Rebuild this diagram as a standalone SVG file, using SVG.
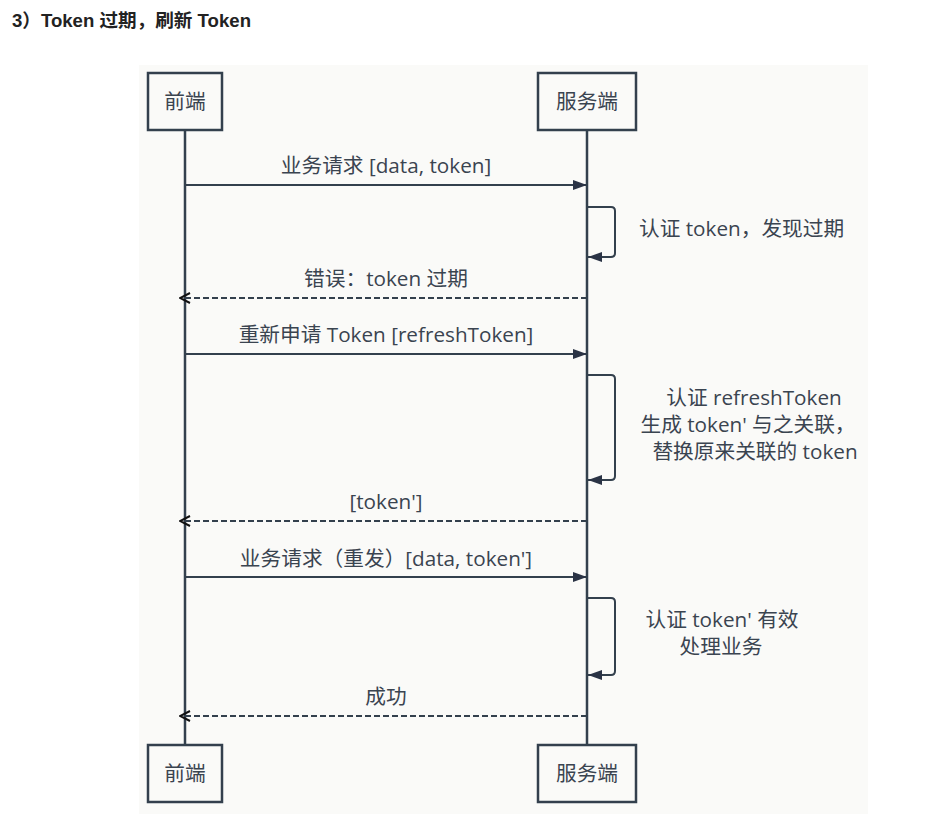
<svg xmlns="http://www.w3.org/2000/svg" width="932" height="826" viewBox="0 0 932 826">
<defs>
<style>
.t{font-family:"Open Sans","Noto Sans CJK SC",sans-serif;font-size:20.7px;fill:#3a4450}
.title{font-family:"Liberation Sans","Noto Sans CJK SC",sans-serif;font-size:18.6px;font-weight:bold;fill:#222}
.box{fill:#fafaf8;stroke:#33404d;stroke-width:2.5}
.life{stroke:#33404d;stroke-width:2.5;fill:none}
.msg{stroke:#33404d;stroke-width:2;fill:none}
.dash{stroke:#33404d;stroke-width:2;fill:none;stroke-dasharray:6 3}
</style>
<marker id="fa" viewBox="0 0 14 10" refX="14" refY="5" markerWidth="14" markerHeight="10" markerUnits="userSpaceOnUse" orient="auto">
<path d="M0,0 L14,5 L0,10 Z" fill="#2a3345"/>
</marker>
<marker id="oa" viewBox="0 0 12 12" refX="11" refY="6" markerWidth="12" markerHeight="12" markerUnits="userSpaceOnUse" orient="auto">
<path d="M1,1 L11,6 L1,11" fill="none" stroke="#111" stroke-width="2"/>
</marker>
</defs>
<rect width="932" height="826" fill="#ffffff"/>
<text class="title" x="12" y="27">3）Token 过期，刷新 Token</text>
<rect x="139" y="65" width="729" height="749" fill="#fafaf8"/>
<g id="connectors">
<line class="life" x1="185" y1="130" x2="185" y2="745"/>
<line class="life" x1="587" y1="130" x2="587" y2="745"/>
<line class="msg" x1="185" y1="185" x2="587" y2="185" marker-end="url(#fa)"/>
<path class="msg" d="M587,207 H611 Q615,207 615,211 V253 Q615,257 611,257 H588" marker-end="url(#fa)"/>
<line class="dash" x1="587" y1="298" x2="180" y2="298" marker-end="url(#oa)"/>
<line class="msg" x1="185" y1="354" x2="587" y2="354" marker-end="url(#fa)"/>
<path class="msg" d="M587,375 H611 Q615,375 615,379 V476 Q615,480 611,480 H588" marker-end="url(#fa)"/>
<line class="dash" x1="587" y1="521" x2="180" y2="521" marker-end="url(#oa)"/>
<line class="msg" x1="185" y1="577" x2="587" y2="577" marker-end="url(#fa)"/>
<path class="msg" d="M587,598 H611 Q615,598 615,602 V671 Q615,675 611,675 H588" marker-end="url(#fa)"/>
<line class="dash" x1="587" y1="716" x2="180" y2="716" marker-end="url(#oa)"/>
<text class="t" x="386" y="173" text-anchor="middle">业务请求 [data, token]</text>
<text class="t" x="639" y="236">认证 token，发现过期</text>
<text class="t" x="386" y="286" text-anchor="middle">错误：token 过期</text>
<text class="t" x="386" y="342" text-anchor="middle">重新申请 Token [refreshToken]</text>
<text class="t" x="754" y="405" text-anchor="middle">认证 refreshToken</text>
<text class="t" x="748" y="432" text-anchor="middle">生成 token' 与之关联，</text>
<text class="t" x="755" y="459" text-anchor="middle">替换原来关联的 token</text>
<text class="t" x="386" y="509" text-anchor="middle">[token']</text>
<text class="t" x="386" y="566" text-anchor="middle">业务请求（重发）[data, token']</text>
<text class="t" x="722" y="627" text-anchor="middle">认证 token' 有效</text>
<text class="t" x="721" y="654" text-anchor="middle">处理业务</text>
<text class="t" x="386" y="704" text-anchor="middle">成功</text>
</g>
<g id="front-top"><rect class="box" x="148" y="73" width="74" height="57"/><text class="t" x="185" y="109" text-anchor="middle">前端</text></g>
<g id="server-top"><rect class="box" x="538" y="73" width="98" height="57"/><text class="t" x="587" y="109" text-anchor="middle">服务端</text></g>
<g id="front-bottom"><rect class="box" x="148" y="745" width="74" height="57"/><text class="t" x="185" y="781" text-anchor="middle">前端</text></g>
<g id="server-bottom"><rect class="box" x="538" y="745" width="98" height="57"/><text class="t" x="587" y="781" text-anchor="middle">服务端</text></g>
</svg>
